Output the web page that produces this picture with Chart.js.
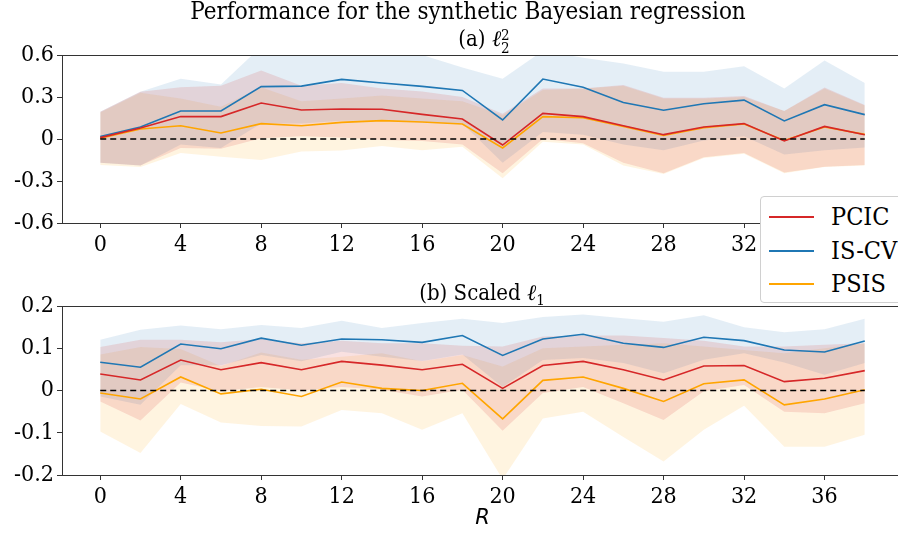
<!DOCTYPE html>
<html>
<head>
<meta charset="utf-8">
<script src="https://cdn.jsdelivr.net/npm/chart.js@4.4.1/dist/chart.umd.min.js"></script>
<style>
    html, body { margin: 0; padding: 0; background: #fff; }
    body { position: relative; width: 898px; height: 533px; overflow: hidden;
           font-family: 'DejaVu Serif Condensed', 'DejaVu Serif', serif; font-stretch: condensed; color: #000; }
    canvas { position: absolute; left: 0; z-index: 1; }
    .title { position: absolute; white-space: nowrap; line-height: 26px; transform: translateX(-50%); z-index: 2; }
    .ell { font-style: italic; }
    .stack { display: inline-block; vertical-align: -7px; line-height: 13px; font-size: 15px; text-align: left; }
    .stack span { display: block; }
    .legend { position: absolute; left: 760px; top: 196px; width: 170px; height: 105px; z-index: 3;
              border: 1px solid #d0d0d0; border-radius: 4px; background: #fff; }
    .item { position: absolute; left: 8px; width: 160px; height: 26px; font-size: 25px; line-height: 26px; white-space: nowrap; }
    .item i { position: absolute; left: 0; top: 12px; width: 45px; height: 2px; }
    .item b { position: absolute; left: 62px; top: 0; font-weight: normal; }
</style>
</head>
<body>
<div class="title" style="left:468px; top:-2px; font-size:24px;">Performance for the synthetic Bayesian regression</div>
<div class="title" style="left:484px; top:26px; font-size:22px;">(a) <span class="ell">ℓ</span><span class="stack"><span>2</span><span>2</span></span></div>
<div class="title" style="left:482px; top:280px; font-size:22px;">(b) Scaled <span class="ell">ℓ</span><sub style="font-size:15px">1</sub></div>

<canvas id="l2Chart" width="920" height="262" style="top:0px; width:920px; height:262px;"></canvas>
<canvas id="l1Chart" width="920" height="271" style="top:262px; width:920px; height:271px;"></canvas>

<div class="legend">
    <div class="item" style="top:7px;"><i style="background:#d62728"></i><b>PCIC</b></div>
    <div class="item" style="top:41px;"><i style="background:#1f77b4"></i><b>IS-CV</b></div>
    <div class="item" style="top:74px;"><i style="background:#ffa500"></i><b>PSIS</b></div>
</div>

<script>
// x positions (R) and tick labels
const rValues = [0, 2, 4, 6, 8, 10, 12, 14, 16, 18, 20, 22, 24, 26, 28, 30, 32, 34, 36, 38];
const xTicks = [0, 4, 8, 12, 16, 20, 24, 28, 32, 36];
const yTicksL2 = [-0.6, -0.3, 0, 0.3, 0.6];
const yTicksL1 = [-0.2, -0.1, 0, 0.1, 0.2];

// (a) l2^2 : means and bands
const pcicL2 = [0.01, 0.079, 0.16, 0.16, 0.257, 0.207, 0.214, 0.212, 0.176, 0.143, -0.043, 0.183, 0.16, 0.095, 0.031, 0.086, 0.11, -0.014, 0.09, 0.031];
const iscvL2 = [0.017, 0.086, 0.2, 0.2, 0.374, 0.378, 0.426, 0.40, 0.376, 0.347, 0.136, 0.428, 0.369, 0.26, 0.205, 0.252, 0.278, 0.129, 0.245, 0.174];
const psisL2 = [0.005, 0.071, 0.095, 0.043, 0.11, 0.095, 0.119, 0.131, 0.121, 0.107, -0.064, 0.16, 0.152, 0.09, 0.026, 0.081, 0.107, -0.01, 0.086, 0.033];

const pcicL2Lo = [-0.17, -0.19, -0.065, -0.07, 0.005, 0.02, 0.01, -0.007, -0.015, -0.04, -0.245, 0.0, -0.03, -0.17, -0.245, -0.13, -0.10, -0.24, -0.198, -0.186];
const pcicL2Hi = [0.195, 0.338, 0.37, 0.38, 0.49, 0.38, 0.40, 0.36, 0.34, 0.30, 0.18, 0.36, 0.36, 0.386, 0.295, 0.295, 0.307, 0.20, 0.367, 0.243];
const iscvL2Lo = [-0.17, -0.19, -0.04, -0.065, 0.11, 0.11, 0.13, 0.13, 0.12, 0.11, -0.17, 0.05, 0.03, -0.04, -0.08, -0.01, 0.02, -0.11, -0.08, -0.06];
const iscvL2Hi = [0.195, 0.338, 0.43, 0.39, 0.66, 0.64, 0.66, 0.64, 0.60, 0.51, 0.43, 0.63, 0.58, 0.54, 0.48, 0.48, 0.52, 0.36, 0.56, 0.40];
const psisL2Lo = [-0.186, -0.2, -0.1, -0.126, -0.15, -0.09, -0.083, -0.05, -0.08, -0.055, -0.28, -0.02, -0.04, -0.19, -0.25, -0.135, -0.105, -0.245, -0.2, -0.19];
const psisL2Hi = [0.19, 0.33, 0.29, 0.23, 0.37, 0.27, 0.29, 0.31, 0.29, 0.27, 0.17, 0.35, 0.36, 0.38, 0.29, 0.29, 0.30, 0.20, 0.36, 0.24];

// (b) scaled l1 : means and bands
const pcicL1 = [0.039, 0.025, 0.072, 0.049, 0.066, 0.049, 0.069, 0.06, 0.049, 0.062, 0.005, 0.059, 0.069, 0.049, 0.025, 0.058, 0.059, 0.021, 0.029, 0.047];
const iscvL1 = [0.067, 0.055, 0.11, 0.099, 0.124, 0.107, 0.122, 0.12, 0.114, 0.13, 0.083, 0.122, 0.133, 0.112, 0.102, 0.126, 0.118, 0.096, 0.091, 0.117];
const psisL1 = [-0.006, -0.02, 0.032, -0.008, 0.003, -0.014, 0.02, 0.005, 0, 0.017, -0.067, 0.024, 0.032, 0.005, -0.026, 0.016, 0.025, -0.034, -0.02, 0.002];

const pcicL1Lo = [-0.026, -0.071, 0.019, -0.002, 0.008, 0, 0.008, 0.002, -0.014, 0.002, -0.095, -0.006, 0.008, -0.03, -0.07, -0.002, 0.013, -0.05, -0.054, -0.03];
const pcicL1Hi = [0.103, 0.12, 0.12, 0.114, 0.122, 0.112, 0.118, 0.112, 0.112, 0.106, 0.104, 0.128, 0.13, 0.13, 0.124, 0.118, 0.104, 0.104, 0.108, 0.112];
const iscvL1Lo = [-0.014, -0.034, 0.06, 0.06, 0.084, 0.069, 0.092, 0.08, 0.07, 0.085, 0.008, 0.072, 0.077, 0.065, 0.041, 0.073, 0.088, 0.066, 0.037, 0.065];
const iscvL1Hi = [0.12, 0.144, 0.154, 0.145, 0.155, 0.148, 0.165, 0.148, 0.16, 0.17, 0.16, 0.174, 0.18, 0.171, 0.163, 0.178, 0.15, 0.138, 0.145, 0.17];
const psisL1Lo = [-0.097, -0.148, -0.032, -0.076, -0.084, -0.085, -0.046, -0.054, -0.093, -0.054, -0.21, -0.066, -0.05, -0.11, -0.168, -0.093, -0.036, -0.133, -0.133, -0.105];
const psisL1Hi = [0.085, 0.103, 0.098, 0.058, 0.09, 0.073, 0.08, 0.088, 0.069, 0.084, 0.057, 0.1, 0.104, 0.108, 0.112, 0.104, 0.096, 0.088, 0.1, 0.112];

const RED = '#d62728';
const BLUE = '#1f77b4';
const ORANGE = '#ffa500';
const SERIF = "'DejaVu Serif Condensed', 'DejaVu Serif', serif";

const pts = arr => arr.map((y, i) => ({ x: rValues[i], y }));

// lower edge + upper edge filled to it
const band = (lo, hi, color) => ([
    { data: pts(lo), borderWidth: 0, pointRadius: 0, fill: false, order: 3 },
    { data: pts(hi), borderWidth: 0, pointRadius: 0, fill: '-1', backgroundColor: color, order: 3 },
]);

const line = (arr, color) => ({
    data: pts(arr), borderColor: color, borderWidth: 1.6, pointRadius: 0, fill: false, order: 1,
});

const zeroLine = {
    data: [{ x: rValues[0], y: 0 }, { x: rValues[rValues.length - 1], y: 0 }],
    borderColor: '#000', borderWidth: 1.6, borderDash: [6, 4], pointRadius: 0, fill: false, order: 0,
};

// draws the axes frame (top / left / bottom spines)
const framePlugin = {
    id: 'frame',
    afterDatasetsDraw(chart) {
        const { ctx, chartArea: a } = chart;
        ctx.save();
        ctx.strokeStyle = '#333';
        ctx.lineWidth = 1;
        ctx.strokeRect(Math.round(a.left) + 0.5, Math.round(a.top) + 0.5,
                       Math.round(a.right - a.left), Math.round(a.bottom - a.top));
        ctx.restore();
    },
};

function makeChart(id, datasets, yTicks, yMin, yMax, xHeight, topPad, showTitle) {
    return new Chart(document.getElementById(id), {
        type: 'line',
        data: { datasets },
        plugins: [framePlugin],
        options: {
            responsive: false,
            animation: false,
            layout: { padding: { top: topPad, right: 17, left: 0, bottom: 0 } },
            plugins: { legend: { display: false }, tooltip: { enabled: false } },
            elements: { line: { tension: 0 } },
            scales: {
                x: {
                    type: 'linear',
                    min: -1.9,
                    max: 39.9,
                    afterBuildTicks: s => { s.ticks = xTicks.map(v => ({ value: v })); },
                    afterFit: s => { s.height = xHeight; },
                    border: { display: false },
                    grid: { drawOnChartArea: false, drawTicks: true, tickLength: 5, tickColor: '#333' },
                    ticks: { color: '#000', padding: 3, autoSkip: false, maxRotation: 0,
                             font: { family: SERIF, size: 23 } },
                    title: {
                        display: showTitle, text: 'R', color: '#000', padding: { top: 0, bottom: 2 },
                        font: { family: "'DejaVu Sans', sans-serif", size: 21, style: 'italic' },
                    },
                },
                y: {
                    min: yMin,
                    max: yMax,
                    afterBuildTicks: s => { s.ticks = yTicks.map(v => ({ value: v })); },
                    afterFit: s => { s.width = 62; },
                    border: { display: false },
                    grid: { drawOnChartArea: false, drawTicks: true, tickLength: 5, tickColor: '#333' },
                    ticks: { color: '#000', padding: 3, autoSkip: false,
                             callback: v => String(v),
                             font: { family: SERIF, size: 23 } },
                },
            },
        },
    });
}

makeChart('l2Chart', [
    ...band(pcicL2Lo, pcicL2Hi, 'rgba(214,39,40,0.14)'),
    ...band(iscvL2Lo, iscvL2Hi, 'rgba(31,119,180,0.12)'),
    ...band(psisL2Lo, psisL2Hi, 'rgba(255,165,0,0.12)'),
    zeroLine,
    line(pcicL2, RED),
    line(iscvL2, BLUE),
    line(psisL2, ORANGE),
], yTicksL2, -0.6, 0.6, 262 - 223, 55, false);

makeChart('l1Chart', [
    ...band(pcicL1Lo, pcicL1Hi, 'rgba(214,39,40,0.14)'),
    ...band(iscvL1Lo, iscvL1Hi, 'rgba(31,119,180,0.12)'),
    ...band(psisL1Lo, psisL1Hi, 'rgba(255,165,0,0.12)'),
    { ...zeroLine },
    line(pcicL1, RED),
    line(iscvL1, BLUE),
    line(psisL1, ORANGE),
], yTicksL1, -0.2, 0.2, 271 - 213, 44, true);
</script>
</body>
</html>
